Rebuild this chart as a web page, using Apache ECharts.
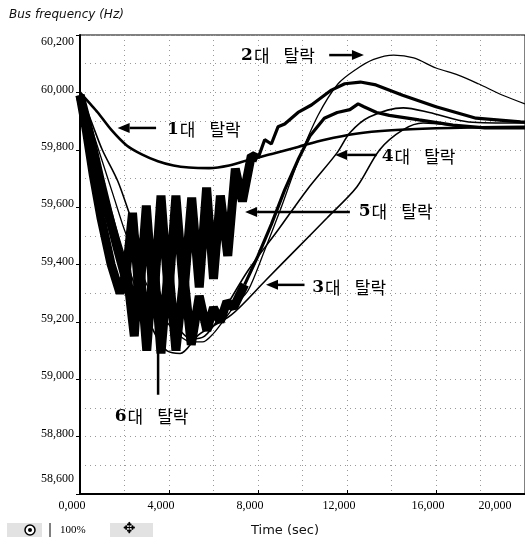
<!DOCTYPE html>
<html><head><meta charset="utf-8">
<script src="https://cdn.jsdelivr.net/npm/echarts/dist/echarts.min.js"></script>
<style>html,body{margin:0;padding:0;background:#fff}#c{width:525px;height:537px}</style>
</head><body><div id="c"></div>
<script>
// ---- data (t in seconds, f in Hz) ----
const xTickValues = [0, 4, 8, 12, 16, 20];
const yTickValues = [58.6, 58.8, 59.0, 59.2, 59.4, 59.6, 59.8, 60.0, 60.2];

const curve1 = [[0,60.0],[0.4,59.965],[0.8,59.93],[1.4,59.87],[2.1,59.815],[2.8,59.783],[3.5,59.76],[4.2,59.745],[4.9,59.738],[5.8,59.736],[6.7,59.745],[7.6,59.765],[8.7,59.787],[9.8,59.81],[11,59.835],[12.4,59.856],[14,59.868],[16,59.875],[18,59.878],[20,59.88]];
const curve2 = [[0,60.0],[0.5,59.88],[1,59.76],[1.5,59.64],[2,59.52],[2.5,59.42],[3,59.33],[3.5,59.25],[4,59.19],[4.5,59.15],[5,59.13],[5.5,59.13],[6,59.16],[6.5,59.21],[7,59.26],[7.56,59.31],[8.3,59.45],[9.0,59.59],[9.8,59.76],[10.7,59.92],[11.6,60.03],[12.4,60.08],[13.2,60.115],[14.1,60.13],[15,60.12],[16,60.085],[17,60.06],[17.9,60.03],[19,59.99],[20,59.96]];
const curve3 = [[0,60.0],[0.5,59.84],[1,59.7],[1.5,59.56],[2,59.43],[2.5,59.32],[3,59.22],[3.5,59.14],[3.9,59.10],[4.5,59.09],[5.33,59.155],[6.8,59.224],[8.36,59.346],[9.78,59.458],[11.1,59.562],[12.44,59.67],[13.47,59.80],[14.53,59.87],[15.42,59.893],[17.47,59.88],[19.78,59.876],[20,59.876]];
const curve4 = [[0,60.0],[0.5,59.9],[1,59.8],[1.7,59.69],[2.3,59.56],[3,59.42],[3.5,59.32],[4,59.23],[4.5,59.17],[5,59.14],[5.6,59.15],[6.3,59.22],[7.56,59.38],[8.9,59.52],[10.2,59.66],[11.56,59.79],[12.13,59.859],[13.0,59.914],[14.53,59.946],[15.7,59.93],[17.47,59.897],[19.78,59.893],[20,59.893]];
// curve 5: heavy oscillation phase, then recovery
const curve5Osc = [[0,59.99],[0.3,59.9],[0.6,59.8],[0.95,59.68],[1.3,59.57],[1.7,59.45],[2.05,59.35],[2.36,59.58],[2.67,59.28],[2.98,59.605],[3.31,59.27],[3.64,59.64],[3.98,59.29],[4.31,59.64],[4.67,59.30],[5.02,59.633],[5.36,59.32],[5.69,59.668],[6.0,59.35],[6.31,59.64],[6.64,59.43],[6.98,59.734],[7.3,59.62],[7.7,59.78],[8.0,59.77]];
const curve5Rec = [[8.0,59.77],[8.3,59.835],[8.6,59.82],[8.9,59.88],[9.2,59.89],[9.8,59.93],[10.4,59.956],[11.3,60.008],[11.9,60.03],[12.6,60.036],[13.3,60.026],[14.5,59.99],[16.0,59.95],[17.8,59.91],[19.8,59.897],[20,59.896]];
// curve 6: deepest dip with oscillation, then recovery
const curve6Osc = [[0,59.99],[0.3,59.86],[0.6,59.71],[0.95,59.56],[1.4,59.40],[1.8,59.30],[2.1,59.38],[2.44,59.15],[2.67,59.42],[3.0,59.10],[3.31,59.42],[3.64,59.09],[3.98,59.40],[4.31,59.10],[4.67,59.36],[5.0,59.12],[5.36,59.29],[5.7,59.17],[6.0,59.25],[6.3,59.20],[6.6,59.27],[6.9,59.25],[7.4,59.33]];
const curve6Rec = [[7.4,59.33],[8.0,59.43],[8.6,59.54],[9.2,59.66],[9.8,59.765],[10.35,59.85],[10.98,59.91],[11.56,59.93],[12.13,59.94],[12.5,59.96],[12.76,59.95],[13.33,59.93],[13.9,59.92],[15.24,59.904],[16.76,59.886],[18.2,59.876],[19.78,59.876],[20,59.876]];

const curveNums = ['1','2','3','4','5','6'];
const labelWord1 = '대';
const labelWord2 = '탈락';

// annotation anchors in data coords: text [t,f] (left, middle), arrow from [t,f] to [t,f]
const annotations = [
  {i:1, text:[7.24,60.130], from:[11.2,60.130], to:[12.76,60.130]},
  {i:0, text:[3.91,59.869], from:[3.42,59.876], to:[1.69,59.876]},
  {i:3, text:[13.56,59.775],from:[13.33,59.782],to:[11.47,59.782]},
  {i:4, text:[12.53,59.583],from:[12.13,59.583],to:[7.42,59.583]},
  {i:2, text:[10.44,59.318],from:[10.09,59.329],to:[8.36,59.329]},
  {i:5, text:[1.56,58.869], from:[3.51,58.946], to:[3.51,59.318]}
];

const fmt = v => v.toFixed(3).replace('.', ',');

const chart = echarts.init(document.getElementById('c'), null, {renderer:'canvas'});
const gridCfg = {left:80, top:35, width:450, height:459};

function mkSeries(data, w, smooth, z){
  return {type:'line', data:data, showSymbol:false, smooth:smooth, animation:false,
    lineStyle:{color:'#000', width:w, join:'bevel', cap:'butt'}, z:z||3};
}
const dotted = {color:'#999', type:[1,4], width:1};

chart.setOption({
  animation:false,
  backgroundColor:'#fff',
  title:[
    {text:'Bus frequency (Hz)', left:4, top:4, textStyle:{fontFamily:'DejaVu Sans', fontStyle:'italic', fontWeight:'normal', fontSize:12, color:'#111'}},
    {text:'Time (sec)', left:246, top:519, textStyle:{fontFamily:'DejaVu Sans', fontWeight:'normal', fontSize:13, color:'#111'}}
  ],
  grid:{...gridCfg, show:true, borderColor:'#000', borderWidth:1},
  xAxis:{type:'value', min:0, max:20, interval:4,
    axisLine:{show:true, lineStyle:{color:'#000', width:2}},
    axisTick:{show:true, length:4, inside:true, lineStyle:{color:'#000'}},
    minorTick:{show:false, splitNumber:2},
    splitLine:{show:true, lineStyle:dotted},
    minorSplitLine:{show:true, lineStyle:dotted},
    axisLabel:{color:'#000', fontFamily:'Liberation Sans Narrow', fontSize:12, margin:6, showMaxLabel:true,
      formatter:(v)=> xTickValues.indexOf(v) === xTickValues.length-1 ? '{last|'+fmt(v)+'}' : '{n|'+fmt(v)+'}',
      rich:{n:{fontFamily:'Liberation Sans Narrow', fontSize:12, color:'#000', padding:[0,16,0,0]},
            last:{fontFamily:'Liberation Sans Narrow', fontSize:12, color:'#000', padding:[0,60,0,0]}}}
  },
  yAxis:{type:'value', min:58.6, max:60.2, interval:0.2,
    axisLine:{show:true, lineStyle:{color:'#000', width:2}},
    axisTick:{show:true, length:4, lineStyle:{color:'#000'}},
    splitLine:{show:true, lineStyle:dotted},
    minorTick:{show:false, splitNumber:2},
    minorSplitLine:{show:true, lineStyle:dotted},
    axisLabel:{color:'#000', fontFamily:'Liberation Sans Narrow', fontSize:12, margin:6, showMaxLabel:true, showMinLabel:true,
      formatter:(v)=> v >= 60.19 ? '{top|'+fmt(v)+'}' : (v <= 58.61 ? '{bot|'+fmt(v)+'}' : '{n|'+fmt(v)+'}'),
      rich:{n:{fontFamily:'Liberation Sans Narrow', fontSize:12, color:'#000', padding:[0,0,6,0]},
            top:{fontFamily:'Liberation Sans Narrow', fontSize:12, color:'#000', padding:[14,0,0,0]},
            bot:{fontFamily:'Liberation Sans Narrow', fontSize:12, color:'#000', padding:[0,0,30,0]}}}
  },
  series:[
    mkSeries(curve1, 2.6, 0.3),
    mkSeries(curve2, 1.3, 0.3),
    mkSeries(curve3, 1.6, 0.3),
    mkSeries(curve4, 1.6, 0.3),
    mkSeries(curve5Osc, 9, false),
    mkSeries(curve5Rec, 3.2, false),
    mkSeries(curve6Osc, 9, false),
    mkSeries(curve6Rec, 3.2, false)
  ]
});

// annotations
const g = [];
annotations.forEach(a => {
  const tp = chart.convertToPixel({gridIndex:0}, a.text);
  const p0 = chart.convertToPixel({gridIndex:0}, a.from);
  const p1 = chart.convertToPixel({gridIndex:0}, a.to);
  g.push({type:'text', x:tp[0], y:tp[1], z:10, style:{
    text:'{n|'+curveNums[a.i]+'}{k|'+labelWord1+'}{m|'+labelWord2+'}',
    verticalAlign:'middle', align:'left',
    rich:{n:{fontFamily:'DejaVu Serif', fontWeight:'bold', fontSize:17, fill:'#000', padding:[0,1,0,0]},
          k:{fontFamily:'Noto Sans CJK KR', fontSize:17, fill:'#000', padding:[0,14,0,0]},
          m:{fontFamily:'Noto Sans CJK KR', fontSize:17, fill:'#000'}}}});
  const dx = p1[0]-p0[0], dy = p1[1]-p0[1];
  const len = Math.hypot(dx, dy), ux = dx/len, uy = dy/len;
  const hl = 12, hw = 5;
  const bx = p1[0]-ux*hl, by = p1[1]-uy*hl;
  g.push({type:'line', z:10, shape:{x1:p0[0], y1:p0[1], x2:bx, y2:by}, style:{stroke:'#000', lineWidth:2.5}});
  g.push({type:'polygon', z:10, shape:{points:[[p1[0],p1[1]],[bx-uy*hw, by+ux*hw],[bx+uy*hw, by-ux*hw]]}, style:{fill:'#000'}});
});
// toolbar fragment at bottom left
g.push({type:'rect', z:10, shape:{x:7, y:523, width:35, height:14}, style:{fill:'#e2e2e2'}});
g.push({type:'circle', z:11, shape:{cx:30, cy:530, r:5}, style:{fill:'#fff', stroke:'#000', lineWidth:1.5}});
g.push({type:'circle', z:12, shape:{cx:30, cy:530, r:2}, style:{fill:'#000'}});
g.push({type:'line', z:11, shape:{x1:50, y1:523, x2:50, y2:537}, style:{stroke:'#000', lineWidth:1}});
g.push({type:'text', z:11, left:60, top:525, style:{text:'100%', fontFamily:'Liberation Sans Narrow', fontSize:11, fill:'#000'}});
g.push({type:'rect', z:10, shape:{x:110, y:523, width:43, height:14}, style:{fill:'#e2e2e2'}});
g.push({type:'text', z:11, left:123, top:522, style:{text:'✥', fontFamily:'DejaVu Sans', fontSize:15, fill:'#000'}});
chart.setOption({graphic:g});
</script></body></html>
